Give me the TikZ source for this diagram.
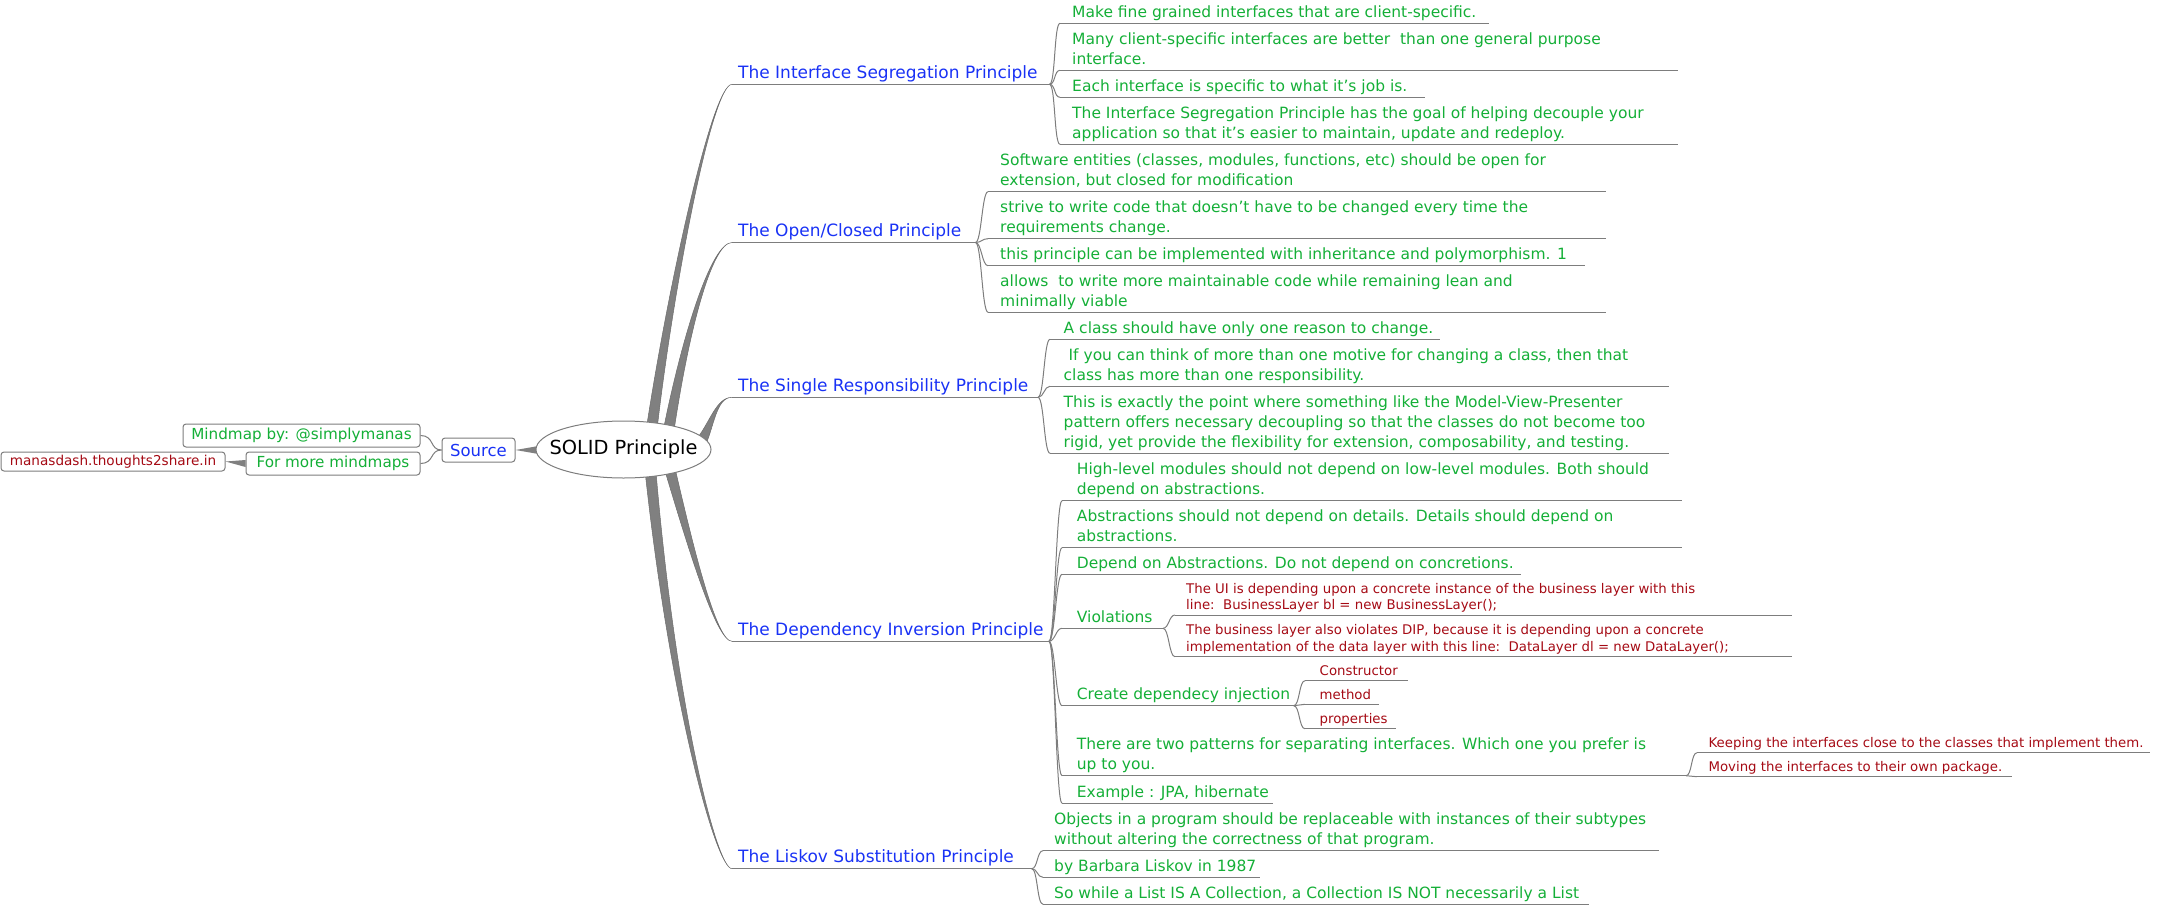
\documentclass[tikz,border=0pt]{standalone}
\usepackage{fontspec}
\setmainfont{DejaVu Sans}
\usetikzlibrary{shapes.geometric,calc}
\definecolor{cgreen}{RGB}{20,175,55}
\definecolor{cblue}{RGB}{25,50,245}
\definecolor{cred}{RGB}{165,10,20}
\definecolor{cline}{RGB}{125,125,125}
\definecolor{cribbon}{RGB}{128,128,128}
\pgfdeclarelayer{bg}
\pgfsetlayers{bg,main}
\newcommand\mmleaf[7]{%
  \coordinate (#1-s) at (#3,#5);
  \coordinate (#1-e) at (#6,#5);
  \node[#2] (#1) at (#4,#5) {#7\rule[-4pt]{0pt}{4pt}};
  \begin{pgfonlayer}{bg}\draw[uline] (#1-s) -- (#1-e);\end{pgfonlayer}}
\newcommand\mmconn[2]{\begin{pgfonlayer}{bg}\draw[conn] (#1) .. controls +(6,0) and +(-6,0) .. (#2);\end{pgfonlayer}}
\newcommand\mmribbon[5]{\begin{pgfonlayer}{bg}\fill[ribbon] ($(#1)-#5$) .. controls ($(#2)-0.5*#5$) and (#3) .. (#4) .. controls (#3) and ($(#2)+0.5*#5$) .. ($(#1)+#5$) -- cycle;\end{pgfonlayer}}
\begin{document}
\begin{tikzpicture}[x=1pt,y=-1pt,
  gtext/.style={text=cgreen,font=\fontsize{15.5}{20}\selectfont,inner sep=0pt,align=left,anchor=south west,yshift=2pt},
  btext/.style={text=cblue,font=\fontsize{17}{21}\selectfont,inner sep=0pt,align=left,anchor=south west,yshift=2pt},
  rtext/.style={text=cred,font=\fontsize{13.3}{16.7}\selectfont,inner sep=0pt,align=left,anchor=south west,yshift=1pt},
  uline/.style={draw=cline,line width=1pt},
  conn/.style={draw=cline,line width=1pt},
  ribbon/.style={fill=cribbon,draw=cribbon!85!black,line width=0.5pt},
  box/.style={draw=cline,fill=white,rounded corners=3pt,line width=1pt,inner sep=0pt},
]
\useasboundingbox (0,0) rectangle (2157,905);

% ---- root and source side
\coordinate (rootc) at (623.5,449.5);
\draw[draw=cline,fill=white,line width=1pt] (rootc) ellipse [x radius=87.5pt, y radius=28.5pt];
\node[inner sep=0pt,font=\fontsize{19.4}{23}\selectfont] (root) at (rootc) {SOLID Principle};
\node[box,minimum width=73pt,minimum height=24pt,text=cblue,font=\fontsize{16.5}{20}\selectfont] (src) at (478.5,450) {Source};
\node[box,minimum width=237pt,minimum height=23pt,text=cgreen,font=\fontsize{15.2}{18}\selectfont] (mm) at (301.5,435.5) {Mindmap by: @simplymanas};
\node[box,minimum width=174pt,minimum height=23pt,text=cgreen,font=\fontsize{15.2}{18}\selectfont] (fm) at (333,463.5) {For more mindmaps};
\node[box,minimum width=224pt,minimum height=19pt,text=cred,font=\fontsize{13.6}{16}\selectfont] (md) at (113,461.5) {manasdash.thoughts2share.in};
\coordinate (srcw1) at (550,444);
\coordinate (srcw2) at (550,456);
\begin{pgfonlayer}{bg}
\fill[cribbon] (src.east) -- (srcw1) -- (srcw2) -- cycle;
\fill[cribbon] (md.east) -- ($(fm.west)+(0,-3.5)$) -- ($(fm.west)+(0,3.5)$) -- cycle;
\draw[conn] (mm.east) .. controls +(14,0) and +(-12,0) .. (src.west);
\draw[conn] (fm.east) .. controls +(14,0) and +(-12,0) .. (src.west);
\end{pgfonlayer}

% ---- principles
\mmleaf{isp}{btext}{732}{738}{84.3}{1049.5}{The Interface Segregation Principle}
\mmleaf{ocp}{btext}{732}{738}{242.5}{975.5}{The Open/Closed Principle}
\mmleaf{srp}{btext}{732}{738}{397.3}{1038}{The Single Responsibility Principle}
\mmleaf{dip}{btext}{732}{738}{641.3}{1049}{The Dependency Inversion Principle}
\mmleaf{lsp}{btext}{732}{738}{868.7}{1031.7}{The Liskov Substitution Principle}

\coordinate (isp-r) at (651,434); \coordinate (isp-a) at (670,290); \coordinate (isp-b) at (712,84.3);
\coordinate (ocp-r) at (668,434); \coordinate (ocp-a) at (686,330); \coordinate (ocp-b) at (712,242.5);
\coordinate (srp-r) at (700,444); \coordinate (srp-a) at (712,425); \coordinate (srp-b) at (716,397.3);
\coordinate (dip-r) at (669,466); \coordinate (dip-a) at (690,545); \coordinate (dip-b) at (716,641.3);
\coordinate (lsp-r) at (650,466); \coordinate (lsp-a) at (672,700); \coordinate (lsp-b) at (716,868.7);
\mmribbon{isp-r}{isp-a}{isp-b}{isp-s}{(5.5,0)}
\mmribbon{ocp-r}{ocp-a}{ocp-b}{ocp-s}{(5.5,0)}
\mmribbon{srp-r}{srp-a}{srp-b}{srp-s}{(4.5,3.5)}
\mmribbon{dip-r}{dip-a}{dip-b}{dip-s}{(5.5,0)}
\mmribbon{lsp-r}{lsp-a}{lsp-b}{lsp-s}{(5.5,0)}

% ---- ISP
\mmleaf{isp1}{gtext}{1060}{1072}{23.3}{1489}{Make fine grained interfaces that are client-specific.}
\mmleaf{isp2}{gtext}{1060}{1072}{70.3}{1678}{Many client-specific interfaces are better\ \ than one general purpose\\interface.}
\mmleaf{isp3}{gtext}{1060}{1072}{97.3}{1425}{Each interface is specific to what it’s job is.}
\mmleaf{isp4}{gtext}{1060}{1072}{144.3}{1678}{The Interface Segregation Principle has the goal of helping decouple your\\application so that it’s easier to maintain, update and redeploy.}
\foreach \c in {isp1,isp2,isp3,isp4} {\mmconn{isp-e}{\c-s}}

% ---- OCP
\mmleaf{ocp1}{gtext}{988}{1000}{191.7}{1606}{Software entities (classes, modules, functions, etc) should be open for\\extension, but closed for modification}
\mmleaf{ocp2}{gtext}{988}{1000}{238.7}{1606}{strive to write code that doesn’t have to be changed every time the\\requirements change.}
\mmleaf{ocp3}{gtext}{988}{1000}{265.7}{1585}{this principle can be implemented with inheritance and polymorphism. 1}
\mmleaf{ocp4}{gtext}{988}{1000}{312.3}{1606}{allows\ \ to write more maintainable code while remaining lean and\\minimally viable}
\foreach \c in {ocp1,ocp2,ocp3,ocp4} {\mmconn{ocp-e}{\c-s}}

% ---- SRP
\mmleaf{srp1}{gtext}{1050}{1063.5}{339.3}{1440}{A class should have only one reason to change.}
\mmleaf{srp2}{gtext}{1050}{1063.5}{386.3}{1669}{\ If you can think of more than one motive for changing a class, then that\\class has more than one responsibility.}
\mmleaf{srp3}{gtext}{1050}{1063.5}{453.3}{1669}{This is exactly the point where something like the Model-View-Presenter\\pattern offers necessary decoupling so that the classes do not become too\\rigid, yet provide the flexibility for extension, composability, and testing.}
\foreach \c in {srp1,srp2,srp3} {\mmconn{srp-e}{\c-s}}

% ---- DIP
\mmleaf{dip1}{gtext}{1062}{1076.7}{500.7}{1682}{High-level modules should not depend on low-level modules. Both should\\depend on abstractions.}
\mmleaf{dip2}{gtext}{1062}{1076.7}{547.7}{1682}{Abstractions should not depend on details. Details should depend on\\abstractions.}
\mmleaf{dip3}{gtext}{1062}{1076.7}{574.3}{1521}{Depend on Abstractions. Do not depend on concretions.}
\mmleaf{dip4}{gtext}{1062}{1076.7}{628.3}{1163}{Violations}
\mmleaf{dip5}{gtext}{1062}{1076.7}{705.7}{1293.7}{Create dependecy injection}
\mmleaf{dip6}{gtext}{1062}{1076.7}{775.7}{1686}{There are two patterns for separating interfaces. Which one you prefer is\\up to you.}
\mmleaf{dip7}{gtext}{1062}{1076.7}{803.3}{1273}{Example : JPA, hibernate}
\foreach \c in {dip1,dip2,dip3,dip4,dip5,dip6,dip7} {\mmconn{dip-e}{\c-s}}

\mmleaf{vio1}{rtext}{1175}{1186}{615}{1792}{The UI is depending upon a concrete instance of the business layer with this\\line:\ \ BusinessLayer bl = new BusinessLayer();}
\mmleaf{vio2}{rtext}{1175}{1186}{656.7}{1792}{The business layer also violates DIP, because it is depending upon a concrete\\implementation of the data layer with this line:\ \ DataLayer dl = new DataLayer();}
\foreach \c in {vio1,vio2} {\mmconn{dip4-e}{\c-s}}

\mmleaf{inj1}{rtext}{1305}{1319.5}{680.7}{1408}{Constructor}
\mmleaf{inj2}{rtext}{1305}{1319.5}{704.3}{1378.5}{method}
\mmleaf{inj3}{rtext}{1305}{1319.5}{728.7}{1396}{properties}
\foreach \c in {inj1,inj2,inj3} {\mmconn{dip5-e}{\c-s}}

\mmleaf{pat1}{rtext}{1697}{1708.4}{752.7}{2150}{Keeping the interfaces close to the classes that implement them.}
\mmleaf{pat2}{rtext}{1697}{1708.4}{776.7}{2012}{Moving the interfaces to their own package.}
\foreach \c in {pat1,pat2} {\mmconn{dip6-e}{\c-s}}

% ---- LSP
\mmleaf{lsp1}{gtext}{1043}{1054}{850.7}{1659}{Objects in a program should be replaceable with instances of their subtypes\\without altering the correctness of that program.}
\mmleaf{lsp2}{gtext}{1043}{1054}{877.3}{1260}{by Barbara Liskov in 1987}
\mmleaf{lsp3}{gtext}{1043}{1054}{904.3}{1588.5}{So while a List IS A Collection, a Collection IS NOT necessarily a List}
\foreach \c in {lsp1,lsp2,lsp3} {\mmconn{lsp-e}{\c-s}}
\end{tikzpicture}
\end{document}
